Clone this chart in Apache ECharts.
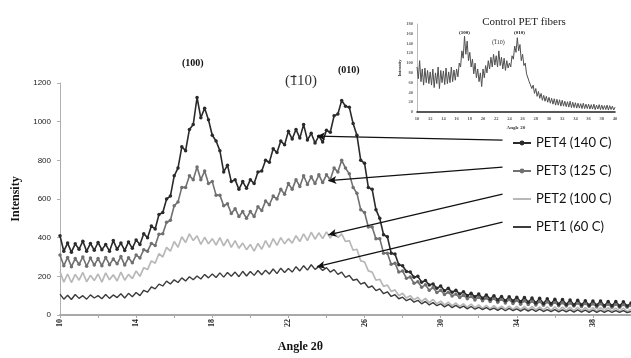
<!DOCTYPE html>
<html><head><meta charset="utf-8">
<script src="https://cdn.jsdelivr.net/npm/echarts@6/dist/echarts.min.js"></script>
<style>html,body{margin:0;padding:0;background:#fff}#c{width:631px;height:358px}</style>
</head><body><div id="c"></div>
<script>
// sampling: angle 2θ from 10 to 40, step 0.2
const startAngle = 10, stepAngle = 0.2;
const pet4 = [
410,330,372,325,368,340,382,330,370,335,
375,338,365,330,385,340,372,334,378,345,
388,365,420,400,460,445,520,530,600,615,
720,760,870,850,960,985,1125,1020,1070,1010,
930,900,850,740,775,690,700,650,690,655,
700,680,740,745,800,790,860,840,900,880,
950,910,960,915,985,905,940,890,925,895,
955,945,1030,1040,1110,1080,1075,990,930,800,
785,660,650,545,500,415,405,320,315,260,
255,225,222,195,200,170,178,155,160,138,
150,125,138,118,128,108,120,100,112,94,
108,86,104,82,100,78,96,74,94,72,
92,68,90,66,88,62,86,60,84,58,
82,56,80,54,78,52,76,52,74,50,
72,50,72,48,70,48,70,46,68,46,
62];
const pet3 = [
310,255,298,250,292,262,300,252,295,258,
292,255,298,260,290,265,302,258,296,270,
310,295,338,330,370,360,418,420,480,490,
565,585,660,660,720,700,765,700,745,680,
690,620,620,565,575,525,550,510,535,500,
535,510,560,540,590,570,615,600,650,625,
680,650,700,665,720,675,715,680,725,685,
725,700,760,740,800,760,730,660,630,545,
530,455,455,395,395,320,320,262,268,222,
228,190,196,164,172,144,156,128,142,116,
128,106,118,98,108,90,102,84,96,78,
92,74,88,70,86,66,82,62,80,60,
76,56,74,54,72,52,70,50,68,50,
66,48,64,46,62,46,62,44,60,44,
58,42,58,42,56,40,56,40,54,40,
50];
const pet2 = [
225,170,212,168,210,180,220,172,205,178,
212,170,218,182,208,176,222,180,210,188,
228,200,245,235,280,268,318,300,350,330,
380,350,405,375,420,385,410,365,402,368,
395,362,400,358,392,350,385,345,372,338,
365,330,370,340,385,350,395,360,400,368,
395,372,410,380,420,385,428,392,425,395,
430,398,432,400,420,380,385,335,340,280,
275,228,222,180,185,148,155,122,130,100,
112,88,100,78,92,70,86,64,80,58,
72,52,66,48,62,44,58,40,56,38,
52,34,50,32,48,32,46,30,46,28,
45,28,44,26,44,26,42,26,42,24,
42,24,40,24,40,22,40,22,38,22,
38,20,38,20,38,20,36,20,36,18,
30];
const pet1 = [
108,82,102,80,106,86,100,82,104,88,
100,84,106,86,104,90,110,88,112,94,
116,100,128,118,145,135,160,150,175,160,
182,168,192,176,198,182,202,186,210,192,
212,194,218,196,220,200,222,198,226,202,
225,205,230,208,232,212,238,214,242,220,
240,222,250,228,255,232,260,236,250,230,
245,222,235,210,222,195,205,180,185,160,
168,142,150,126,135,110,120,96,105,84,
92,74,84,66,76,58,70,52,64,48,
58,42,54,38,50,36,46,32,44,30,
40,28,38,26,36,24,35,22,34,22,
32,20,32,20,30,18,30,18,28,17,
28,16,27,16,26,15,26,15,25,14,
25,14,24,14,24,13,23,13,23,12,
18];
const control = [
92,68,105,62,88,55,90,60,85,58,
82,55,88,50,80,58,92,48,85,60,
84,56,90,58,82,60,92,62,86,65,
88,72,100,92,125,110,155,118,145,105,
122,92,108,78,100,70,88,62,80,52,
88,70,95,80,105,88,112,92,118,96,
115,92,125,95,112,88,110,85,105,90,
100,92,115,108,135,122,152,125,138,105,
118,95,100,78,82,62,65,48,55,38,
48,32,42,28,38,24,34,22,32,20,
30,18,28,16,27,14,26,14,25,12,
24,12,22,11,21,10,22,9,20,9,
19,8,18,8,17,7,18,7,16,7,
16,6,15,6,16,5,14,6,15,5,
14,5,13,5,14,4,13,5,12,4,
10];
const seriesNames = ['PET4 (140 C)','PET3 (125 C)','PET2 (100 C)','PET1 (60 C)'];
// arrow annotations [from legend line, to curve] in data coords (angle, intensity)
const arrows = {
  'PET4 (140 C)': [[33.25,905],[23.5,925]],
  'PET3 (125 C)': [[33.25,765],[24.1,695]],
  'PET2 (100 C)': [[33.25,625],[24.1,415]],
  'PET1 (60 C)':  [[33.25,480],[23.5,250]]
};
const xTicksMain = {min:10, max:40, interval:2};
const yTicksMain = {min:0, max:1200, interval:200};
const xTicksInset = {min:10, max:40, interval:2};
const yTicksInset = {min:0, max:180, interval:20};

function pairs(arr){ return arr.map((v,i)=>[+(startAngle+i*stepAngle).toFixed(2), v]); }

const chart = echarts.init(document.getElementById('c'), null, {renderer:'canvas'});
const serif = 'Liberation Serif';
function mkLine(name){
  const a = arrows[name];
  return {silent:true, symbol:['none','arrow'], symbolSize:[6,8], animation:false,
    lineStyle:{color:'#111', width:1.3, type:'solid'}, label:{show:false},
    data:[[{coord:a[0]},{coord:a[1]}]]};
}
const opt = {
  animation:false,
  backgroundColor:'#fff',
  grid:[
    {left:60, top:83, width:583, height:239},
    {left:417, top:24, width:198, height:88}
  ],
  xAxis:[
    {type:'value', gridIndex:0, min:xTicksMain.min, max:xTicksMain.max, interval:xTicksMain.interval,
     name:'Angle 2θ', nameLocation:'middle', nameGap:26,
     nameTextStyle:{fontFamily:serif, fontWeight:'bold', fontSize:12, color:'#111', padding:[0,0,0,-90]},
     axisLine:{lineStyle:{color:'#a8a8a8', width:2}},
     axisTick:{show:true, length:3, lineStyle:{color:'#a8a8a8'}},
     splitLine:{show:false},
     axisLabel:{rotate:90, fontSize:8, fontFamily:serif, fontWeight:'bold', color:'#222', margin:4,
       formatter:v=>((v-10)%4===0 && v<40)?String(v):''}},
    {type:'value', gridIndex:1, min:xTicksInset.min, max:xTicksInset.max, interval:xTicksInset.interval,
     name:'Angle 2θ', nameLocation:'middle', nameGap:13,
     nameTextStyle:{fontFamily:serif, fontWeight:'bold', fontSize:5, color:'#333'},
     axisLine:{lineStyle:{color:'#222', width:1.6}},
     axisTick:{show:false}, splitLine:{show:false},
     axisLabel:{fontSize:4.5, fontFamily:serif, fontWeight:'bold', color:'#555', margin:4}}
  ],
  yAxis:[
    {type:'value', gridIndex:0, min:yTicksMain.min, max:yTicksMain.max, interval:yTicksMain.interval,
     name:'Intensity', nameLocation:'middle', nameGap:38,
     nameTextStyle:{fontFamily:serif, fontWeight:'bold', fontSize:12, color:'#111'},
     axisLine:{show:true, lineStyle:{color:'#b0b0b0', width:1}},
     axisTick:{show:true, length:3, lineStyle:{color:'#b0b0b0'}},
     splitLine:{show:false},
     axisLabel:{fontSize:8, fontFamily:'Liberation Sans', color:'#222', margin:9, formatter:v=>String(v)}},
    {type:'value', gridIndex:1, min:yTicksInset.min, max:yTicksInset.max, interval:yTicksInset.interval,
     name:'Intensity', nameLocation:'middle', nameGap:15,
     nameTextStyle:{fontFamily:serif, fontWeight:'bold', fontSize:4.5, color:'#333'},
     axisLine:{show:true, lineStyle:{color:'#bbb', width:1}},
     axisTick:{show:false}, splitLine:{show:false},
     axisLabel:{fontSize:4.5, fontFamily:serif, fontWeight:'bold', color:'#666', margin:4}}
  ],
  title:{text:'Control PET fibers', left:519, top:12, textAlign:'center',
    textStyle:{fontFamily:serif, fontWeight:'normal', fontSize:11, color:'#222'}},
  legend:{orient:'vertical', left:512, top:135, padding:0, itemWidth:18, itemHeight:6, itemGap:12,
    data:[
      {name:seriesNames[0]},
      {name:seriesNames[1]},
      {name:seriesNames[2], itemStyle:{opacity:0}},
      {name:seriesNames[3], itemStyle:{opacity:0}}
    ], selectedMode:false,
    textStyle:{fontFamily:'Lato', fontSize:13, color:'#111', lineHeight:16}},
  series:[
    {name:seriesNames[2], type:'line', xAxisIndex:0, yAxisIndex:0, data:pairs(pet2),
     symbol:'none', lineStyle:{color:'#b8b8b8', width:1.7}, itemStyle:{color:'#b8b8b8'}, markLine:mkLine(seriesNames[2])},
    {name:seriesNames[3], type:'line', xAxisIndex:0, yAxisIndex:0, data:pairs(pet1),
     symbol:'none', lineStyle:{color:'#3c3c3c', width:1.4}, itemStyle:{color:'#3c3c3c'}, markLine:mkLine(seriesNames[3])},
    {name:seriesNames[1], type:'line', xAxisIndex:0, yAxisIndex:0, data:pairs(pet3),
     symbol:'circle', symbolSize:3.5, showAllSymbol:true, lineStyle:{color:'#707070', width:1.6}, itemStyle:{color:'#707070'}, markLine:mkLine(seriesNames[1])},
    {name:seriesNames[0], type:'line', xAxisIndex:0, yAxisIndex:0, data:pairs(pet4),
     symbol:'circle', symbolSize:3.5, showAllSymbol:true, lineStyle:{color:'#2a2a2a', width:1.6}, itemStyle:{color:'#2a2a2a'}, markLine:mkLine(seriesNames[0])},
    {name:'Control PET fibers', type:'line', xAxisIndex:1, yAxisIndex:1, data:pairs(control),
     symbol:'none', lineStyle:{color:'#505050', width:1}, itemStyle:{color:'#505050'}}
  ],
  graphic:[
    {type:'text', left:182, top:58, style:{text:'(100)', font:'bold 10px "Liberation Serif"', fill:'#111'}},
    {type:'text', left:285, top:74, style:{text:'(110)', font:'15px "Liberation Serif"', fill:'#333'}},
    {type:'line', shape:{x1:290.5, y1:76.5, x2:296.5, y2:76.5}, style:{stroke:'#333', lineWidth:1.2}},
    {type:'text', left:338, top:65, style:{text:'(010)', font:'bold 10px "Liberation Serif"', fill:'#111'}},
    {type:'text', left:459, top:30, style:{text:'(100)', font:'bold 5px "Liberation Serif"', fill:'#111'}},
    {type:'text', left:492, top:39, style:{text:'(110)', font:'6px "Liberation Serif"', fill:'#333'}},
    {type:'line', shape:{x1:494, y1:39.8, x2:496.5, y2:39.8}, style:{stroke:'#333', lineWidth:0.6}},
    {type:'text', left:514, top:30, style:{text:'(010)', font:'bold 5px "Liberation Serif"', fill:'#111'}}
  ]
};
chart.setOption(opt);
</script></body></html>
